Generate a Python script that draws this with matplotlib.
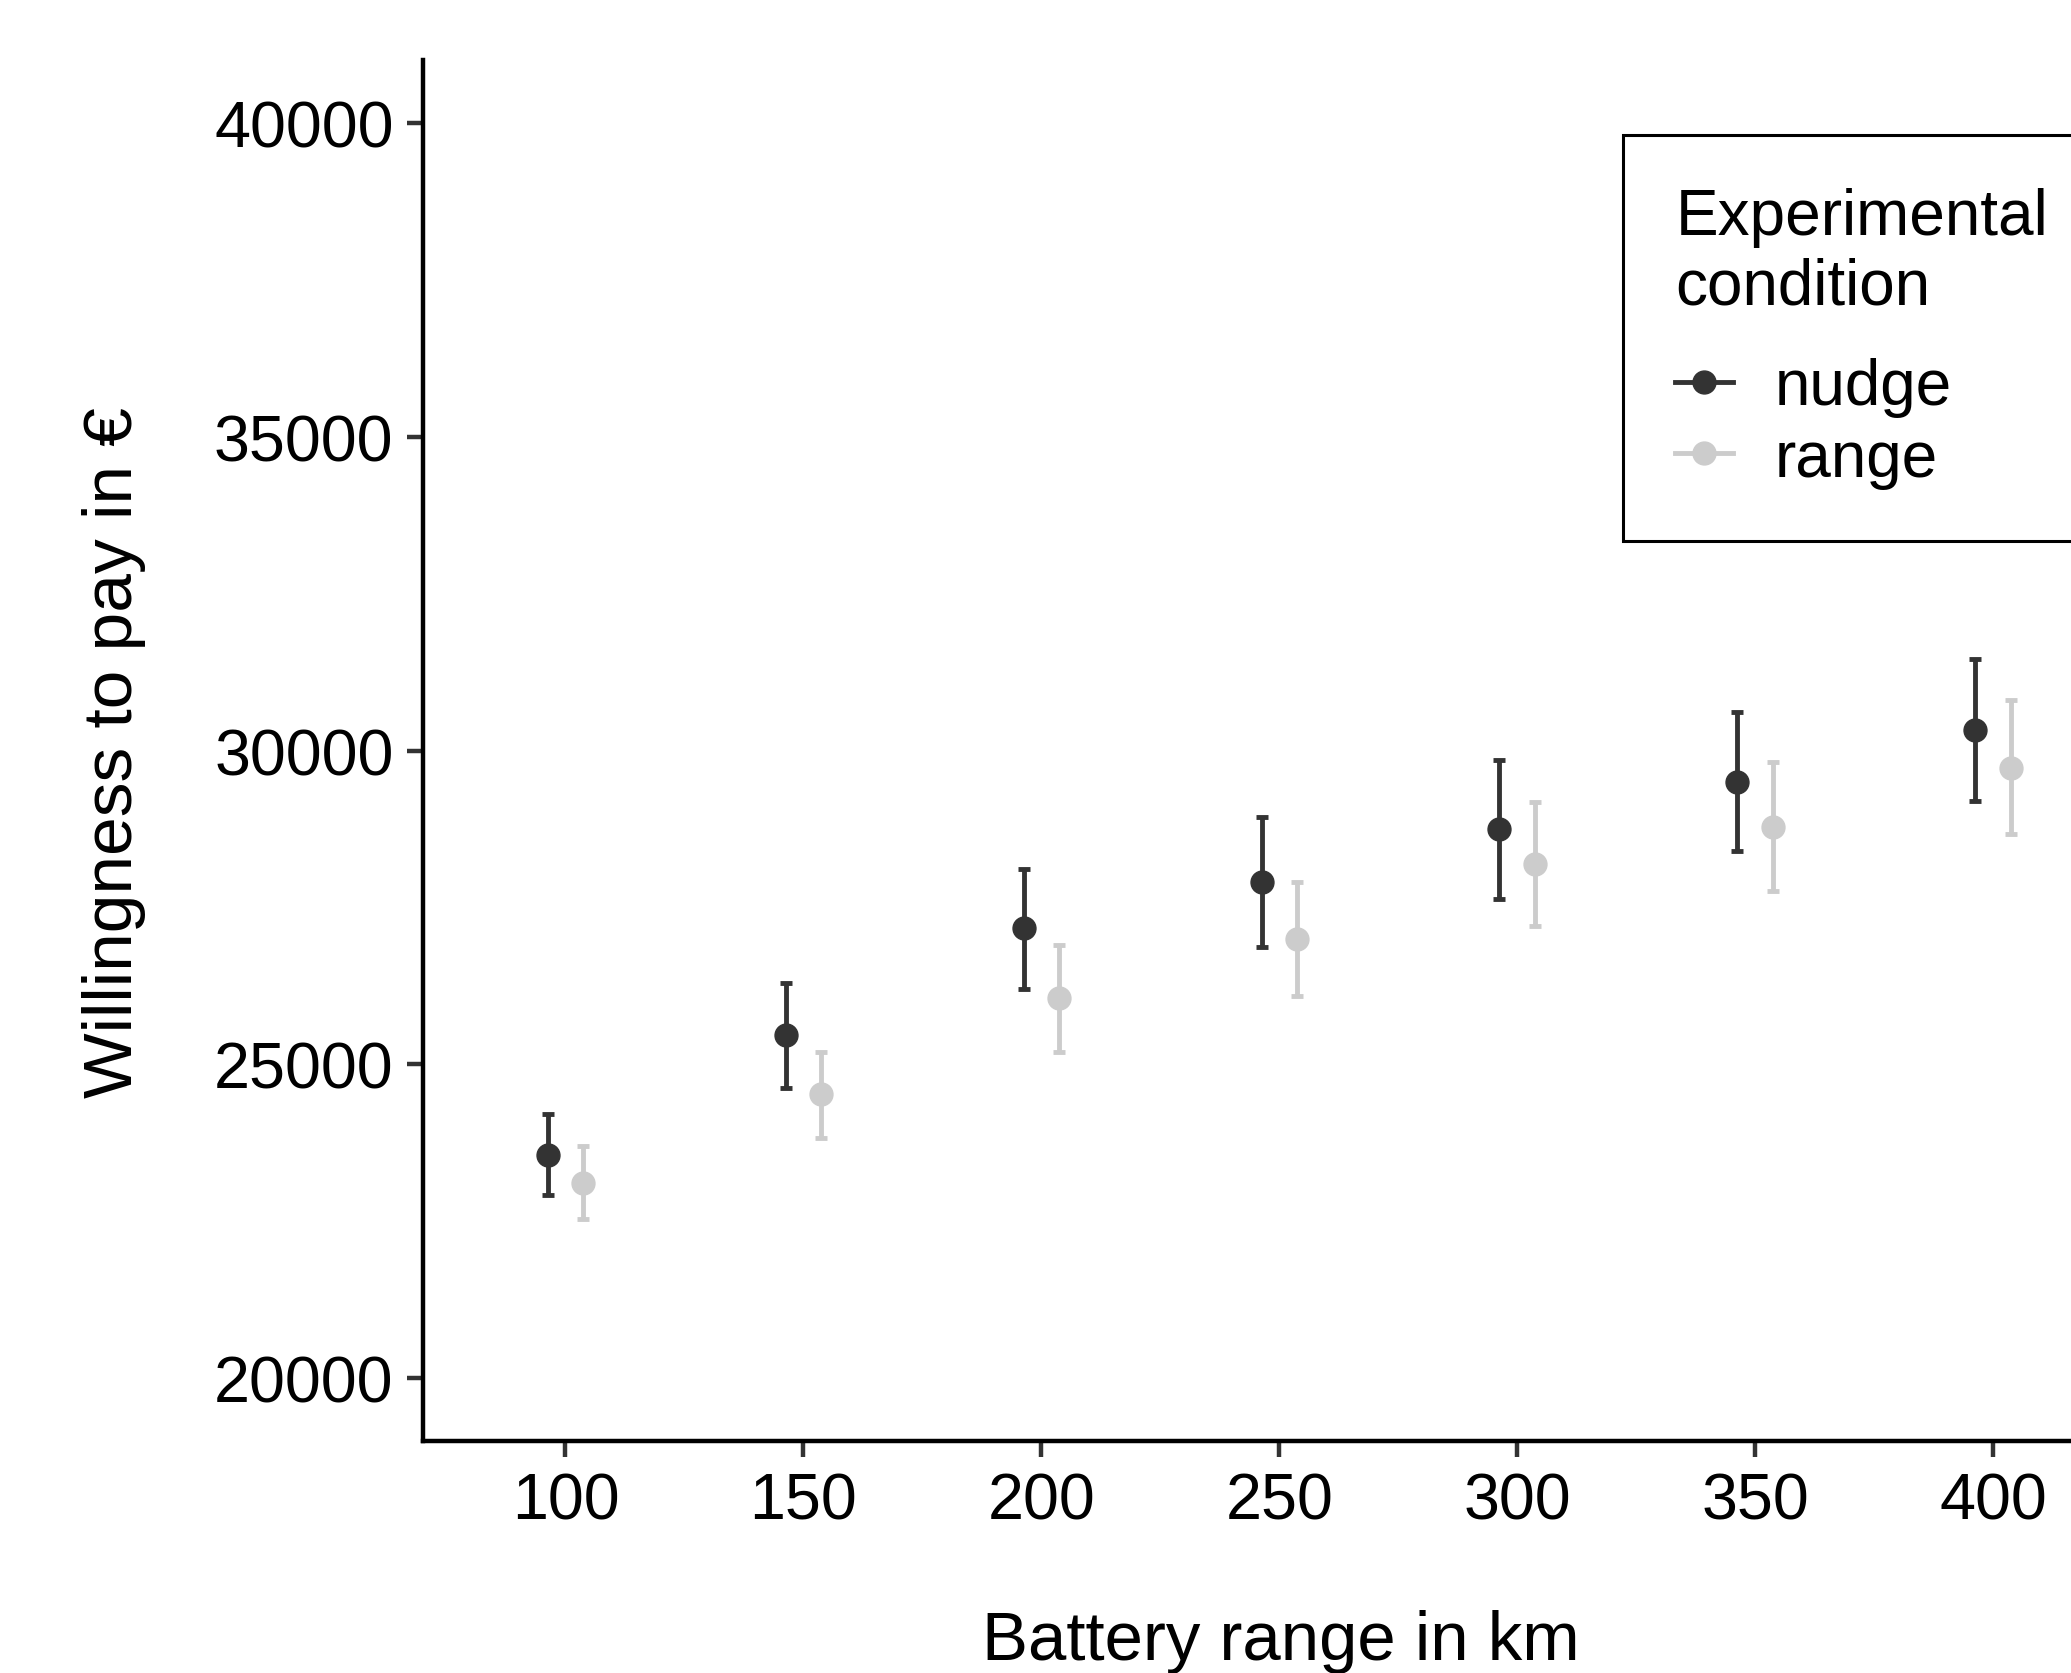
import matplotlib
matplotlib.use("Agg")
import matplotlib.pyplot as plt
from matplotlib.lines import Line2D
import numpy as np

plt.rcParams["font.family"] = ["Liberation Sans", "DejaVu Sans"]

# %%
# Willingness to pay (mean and interval) per battery range and condition
battery_range = [100, 150, 200, 250, 300, 350, 400]

nudge_mean = [23560, 25470, 27180, 27910, 28750, 29500, 30330]
nudge_lo = [22920, 24630, 26210, 26870, 27640, 28400, 29200]
nudge_hi = [24210, 26300, 28110, 28950, 29850, 30620, 31460]

range_mean = [23110, 24530, 26060, 27000, 28190, 28790, 29730]
range_lo = [22530, 23830, 25200, 26090, 27210, 27760, 28680]
range_hi = [23700, 25200, 26910, 27900, 29180, 29820, 30810]

conditions = ["nudge", "range"]
colors = ["#333333", "#CCCCCC"]

# %%
fig = plt.figure(figsize=(20.71, 16.74), dpi=100)
ax = fig.add_axes([0.2041, 0.1386, 0.8273, 0.8247])

x = np.array(battery_range, dtype=float)
dodge = 3.75
series = [(nudge_mean, nudge_lo, nudge_hi), (range_mean, range_lo, range_hi)]
for i, (m, lo, hi) in enumerate(series):
    m, lo, hi = np.array(m), np.array(lo), np.array(hi)
    xs = x - dodge if i == 0 else x + dodge
    ax.errorbar(xs, m, yerr=[m - lo, hi - m], fmt="o", ms=16.5, color=colors[i],
                elinewidth=3.5, capsize=4.3, capthick=3.5, zorder=3)

ax.set_xlim(70, 430)
ax.set_ylim(19000, 41000)
ax.set_xticks(battery_range)
ax.set_yticks([20000, 25000, 30000, 35000, 40000])
ax.spines[["top", "right"]].set_visible(False)
for s in ["left", "bottom"]:
    ax.spines[s].set_linewidth(3.2)
ax.tick_params(axis="both", labelsize=46.5, length=11.5, width=3.2, color="#333333")
ax.tick_params(axis="x", pad=10.5)
ax.tick_params(axis="y", pad=9.5)

fig.text(0.6186, 0.0081, "Battery range in km", ha="center", va="baseline", fontsize=49.7)
fig.text(0.0396, 0.5502, "Willingness to pay in €", ha="left", va="center",
         rotation=90, fontsize=50)

# %%
# Legend in ggplot style: horizontal line with point
handles = [Line2D([], [], color=c, lw=3.5, marker="o", ms=16.5) for c in colors]
leg = fig.legend(handles, conditions, title="Experimental\ncondition",
                 loc="upper left", bbox_to_anchor=(1623 / 2071, 1 - 136 / 1674),
                 bbox_transform=fig.transFigure, borderaxespad=0,
                 fontsize=46, title_fontsize=46, alignment="left",
                 handlelength=0.9, handletextpad=0.65, borderpad=0.82,
                 labelspacing=0.18, fancybox=False, framealpha=1,
                 edgecolor="black")
leg.get_frame().set_linewidth(2.2)
leg._legend_box.sep = 29

fig.savefig("out.png", dpi=100)
